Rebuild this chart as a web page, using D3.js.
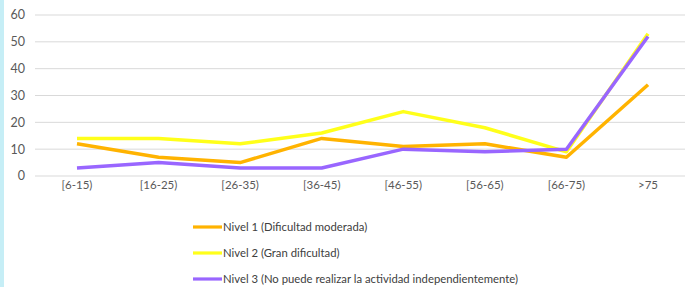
<!DOCTYPE html>
<html><head><meta charset="utf-8">
<script src="https://cdn.jsdelivr.net/npm/d3@7"></script>
<style>
html,body{margin:0;padding:0;background:#fff;}
svg{display:block;}
</style></head>
<body>
<svg id="c" width="685" height="287"></svg>
<script>
const categories = ["[6-15)","[16-25)","[26-35)","[36-45)","[46-55)","[56-65)","[66-75)",">75"];
const nivel1 = [12,7,5,14,11,12,7,34];
const nivel2 = [14,14,12,16,24,18,9,53];
const nivel3 = [3,5,3,3,10,9,10,52];
const yTicks = [0,10,20,30,40,50,60];
const seriesNames = ["Nivel 1 (Dificultad moderada)","Nivel 2 (Gran dificultad)","Nivel 3 (No puede realizar la actividad independientemente)"];
const seriesColors = ["#ffb300","#ffff1a","#9966ff"];

const series = [nivel1, nivel2, nivel3];
const font = "Lato,'DejaVu Sans Condensed',sans-serif";
const svg = d3.select("#c");

svg.append("rect").attr("x",0).attr("y",0).attr("width",4).attr("height",287).attr("fill","#c6eef6");

const x = d3.scalePoint().domain(categories).range([77,648]);
const y = d3.scaleLinear().domain([0,60]).range([176,15]);

const gridL = 35, gridR = 685;
svg.append("g").selectAll("line").data(yTicks).join("line")
  .attr("x1",gridL).attr("x2",gridR)
  .attr("y1",d=>y(d)).attr("y2",d=>y(d))
  .attr("stroke","#d9d9d9").attr("stroke-width",1);

svg.append("g").selectAll("text").data(yTicks).join("text")
  .attr("x",25).attr("y",d=>y(d)).attr("dy","0.35em")
  .attr("text-anchor","end").attr("font-family",font).attr("font-size",12.5)
  .attr("fill","#595959").text(d=>d);

svg.append("g").selectAll("text").data(categories).join("text")
  .attr("x",d=>x(d)).attr("y",189)
  .attr("text-anchor","middle").attr("font-family",font).attr("font-size",11.5)
  .attr("fill","#595959").text(d=>d);

const line = d3.line().x((d,i)=>x(categories[i])).y(d=>y(d));
series.forEach((s,i)=>{
  svg.append("path").datum(s).attr("d",line)
    .attr("fill","none").attr("stroke",seriesColors[i]).attr("stroke-width",3.5)
    .attr("stroke-linejoin","round");
});

const legY = [227,253,279];
seriesNames.forEach((n,i)=>{
  svg.append("line").attr("x1",193).attr("x2",222).attr("y1",legY[i]).attr("y2",legY[i])
    .attr("stroke",seriesColors[i]).attr("stroke-width",3.2);
  svg.append("text").attr("x",223).attr("y",legY[i]).attr("dy","0.35em")
    .attr("font-family",font).attr("font-size",11.3).attr("fill","#404040").text(n);
});
</script>
</body></html>
